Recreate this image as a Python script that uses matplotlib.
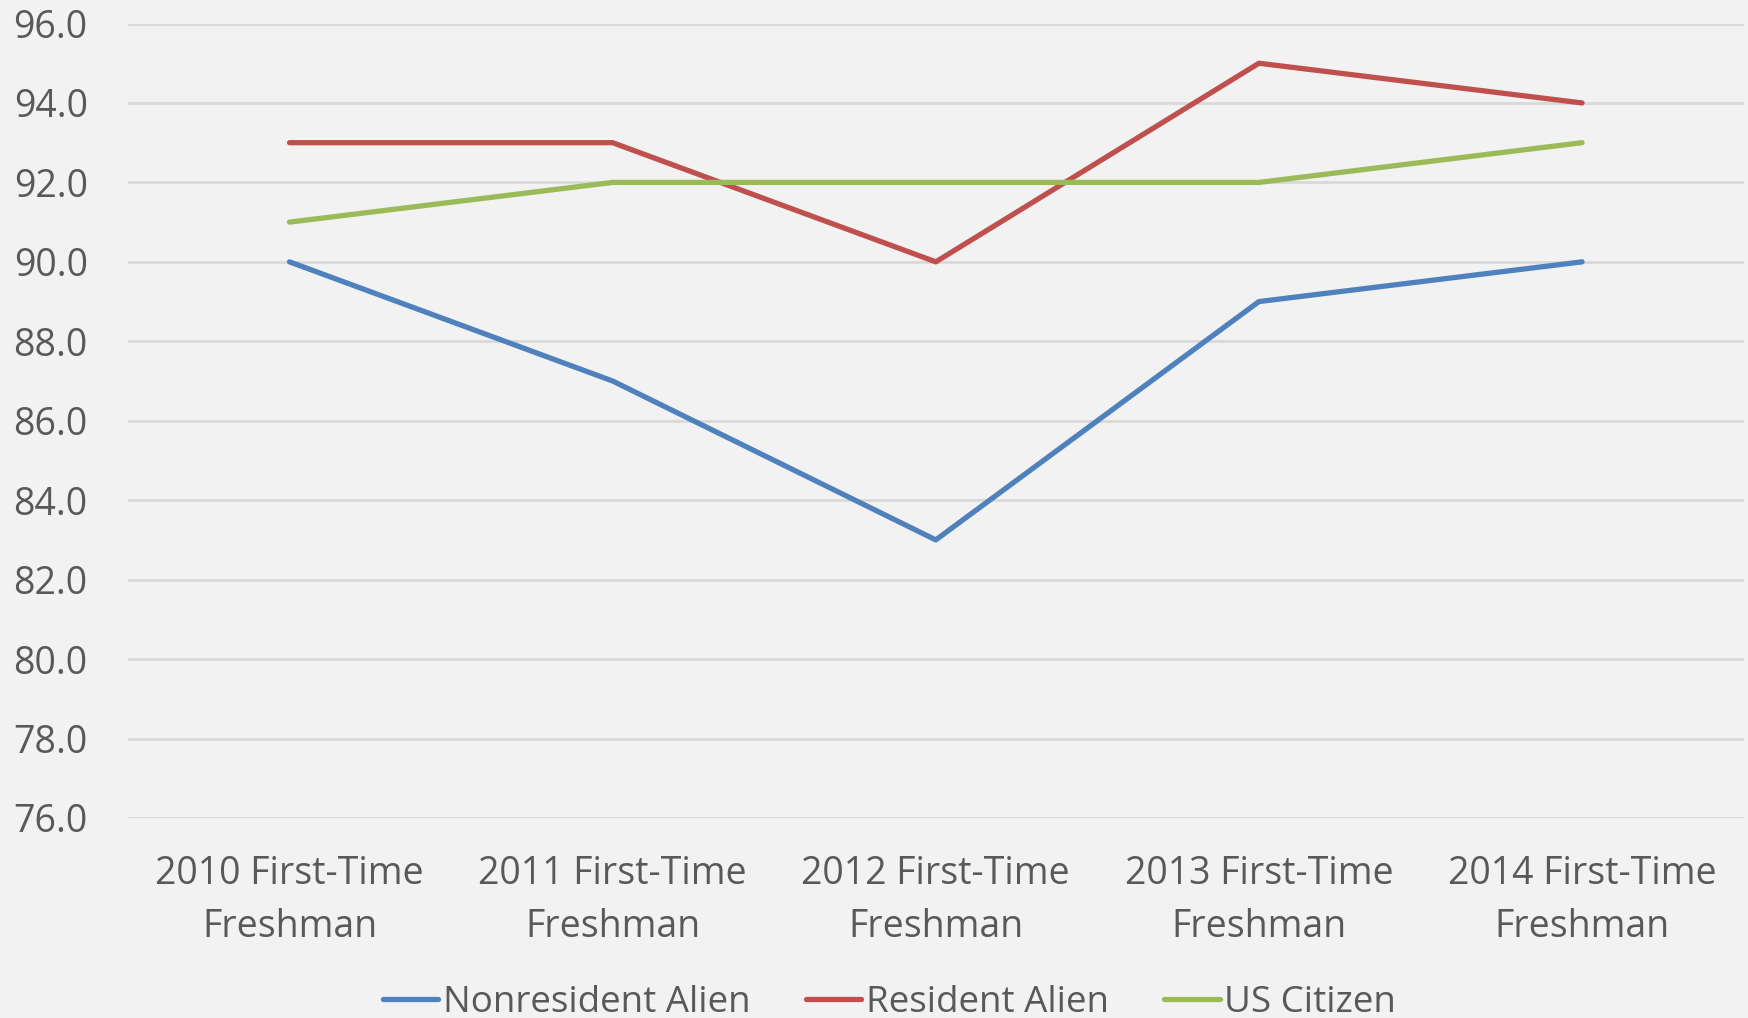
import numpy as np
import matplotlib
matplotlib.use("Agg")
import matplotlib.pyplot as plt

cohorts = ["2010 First-Time\nFreshman", "2011 First-Time\nFreshman", "2012 First-Time\nFreshman",
           "2013 First-Time\nFreshman", "2014 First-Time\nFreshman"]
nonresident = [90, 87, 83, 89, 90]
resident = [93, 93, 90, 95, 94]
us_citizen = [91, 92, 92, 92, 93]
yticks = np.arange(76, 97, 2)

bg = "#F2F2F2"
text_color = "#595959"

plt.rcParams["font.family"] = ["Open Sans", "DejaVu Sans"]

fig = plt.figure(figsize=(17.48, 10.18), dpi=100, facecolor=bg)
ax = fig.add_axes([0.0732, 0.1965, 0.9243, 0.7804], facecolor=bg)

x = np.arange(len(cohorts))
ax.plot(x, nonresident, color="#4F81BD", lw=3.8, solid_capstyle="round", solid_joinstyle="round", label="Nonresident Alien")
ax.plot(x, resident, color="#C0504D", lw=3.8, solid_capstyle="round", solid_joinstyle="round", label="Resident Alien")
ax.plot(x, us_citizen, color="#9BBB59", lw=3.8, solid_capstyle="round", solid_joinstyle="round", label="US Citizen")

ax.set_xlim(-0.5, len(cohorts) - 0.5)
ax.set_ylim(76, 96)
ax.set_yticks(yticks)
ax.set_yticklabels([f"{v:.1f}" for v in yticks])
ax.set_xticks(x)
ax.set_xticklabels(cohorts, linespacing=1.5)

ax.grid(axis="y", color="#D9D9D9", lw=2)
ax.set_axisbelow(True)
for s in ax.spines.values():
    s.set_visible(False)
ax.tick_params(axis="both", length=0, labelsize=27, labelcolor=text_color)
ax.tick_params(axis="y", pad=29)
ax.tick_params(axis="x", pad=27)

leg = fig.legend(loc="center", bbox_to_anchor=(0.509, 0.015), ncol=3, frameon=False,
                 fontsize=26.5, handlelength=1.5, handletextpad=0.13, columnspacing=1.5)
for t in leg.get_texts():
    t.set_color(text_color)

fig.savefig("out.png", dpi=100, facecolor=bg)
